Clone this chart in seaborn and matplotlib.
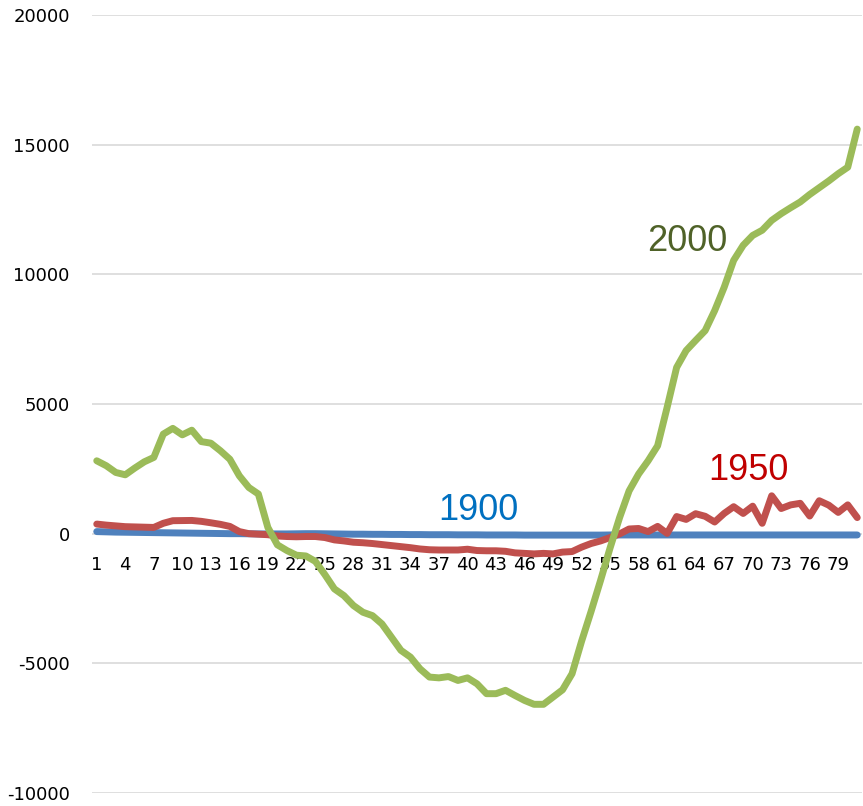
"""Line chart of three yearly series (1900, 1950, 2000) by position."""

import matplotlib

matplotlib.use("Agg")
import matplotlib.pyplot as plt
import pandas as pd
import seaborn as sns

positions = list(range(1, 82))

series_1900 = [
    80, 70, 60, 55, 50, 45, 40, 35, 30, 25,
    20, 15, 10, 5, 0, 0, -5, -10, -10, -10,
    -10, -5, 0, 0, -5, -10, -15, -20, -20, -25,
    -25, -30, -30, -35, -35, -40, -40, -40, -45, -45,
    -45, -50, -50, -50, -50, -55, -55, -55, -55, -55,
    -55, -55, -55, -55, -50, -50, -50, -50, -50, -50,
    -50, -50, -50, -50, -50, -50, -50, -50, -50, -50,
    -50, -50, -50, -50, -50, -50, -50, -50, -50, -50, -50,
]
series_1950 = [
    370, 330, 300, 270, 260, 250, 240, 400, 500, 505,
    510, 475, 420, 360, 280, 80, 0, -20, -40, -90,
    -110, -120, -110, -110, -150, -240, -280, -330, -350, -380,
    -420, -460, -500, -540, -590, -620, -630, -630, -630, -600,
    -650, -660, -660, -680, -740, -760, -780, -760, -780, -710,
    -690, -520, -380, -280, -150, -10, 180, 200, 80, 280,
    10, 660, 550, 770, 670, 450, 780, 1040, 780, 1060,
    400, 1460, 970, 1110, 1170, 680, 1270, 1100, 820, 1110, 620,
]
series_2000 = [
    2810, 2620, 2360, 2270, 2530, 2770, 2940, 3840, 4060, 3810,
    3990, 3550, 3490, 3200, 2870, 2230, 1780, 1530, 240, -430,
    -650, -830, -860, -1070, -1580, -2130, -2390, -2770, -3030, -3160,
    -3480, -3990, -4500, -4760, -5210, -5530, -5560, -5510, -5660, -5560,
    -5790, -6170, -6170, -6040, -6240, -6430, -6580, -6580, -6300, -6020,
    -5400, -4150, -3000, -1800, -550, 620, 1650, 2300, 2810, 3390,
    4870, 6410, 7060, 7450, 7830, 8600, 9500, 10540, 11120, 11500,
    11700, 12080, 12340, 12570, 12790, 13080, 13340, 13600, 13880, 14130, 15600,
]

series_names = ["1900", "1950", "2000"]
line_colors = ["#4F81BD", "#C0504D", "#9BBB59"]
label_colors = ["#0070C0", "#C00000", "#4F6228"]
label_positions = [(41.1, 885), (69.6, 2425), (63.1, 11280)]

y_ticks = [-10000, -5000, 0, 5000, 10000, 15000, 20000]
x_ticks = list(range(1, 82, 3))

frame = pd.concat(
    [
        pd.DataFrame({"position": positions, "value": values, "series": name})
        for name, values in zip(series_names, [series_1900, series_1950, series_2000])
    ],
    ignore_index=True,
)

sns.set_style("white")
plt.rcParams["font.family"] = ["DejaVu Sans"]
plt.rcParams["axes.unicode_minus"] = False
plt.rcParams["lines.solid_joinstyle"] = "round"
plt.rcParams["lines.solid_capstyle"] = "round"

fig = plt.figure(figsize=(8.63, 8.06), dpi=100)
ax = fig.add_axes([92 / 863, 1 - 793 / 806, 770 / 863, (793 - 15) / 806])

sns.lineplot(
    data=frame,
    x="position",
    y="value",
    hue="series",
    hue_order=series_names,
    palette=line_colors,
    linewidth=5,
    legend=False,
    ax=ax,
)

# series names written straight onto the plot instead of a legend
for name, color, (x_pos, y_pos) in zip(series_names, label_colors, label_positions):
    ax.text(x_pos, y_pos, name, color=color, fontsize=26, family="Liberation Sans",
            ha="center", va="center")

ax.set_xlim(0.5, 81.5)
ax.set_ylim(-10000, 20000)
ax.set_yticks(y_ticks)
ax.set_xticks(x_ticks)
ax.set_xticklabels([str(t) for t in x_ticks])
ax.yaxis.grid(True, color="#D9D9D9", linewidth=1.2)
ax.set_axisbelow(True)

for side in ["top", "right", "left"]:
    ax.spines[side].set_visible(False)
# category labels sit under the zero line, not at the bottom of the plot
ax.spines["bottom"].set_position(("data", 0))
ax.spines["bottom"].set_visible(False)

ax.tick_params(axis="y", length=0, pad=16, labelsize=13, colors="#000000")
ax.tick_params(axis="x", length=0, pad=16, labelsize=13, colors="#000000")
ax.set_xlabel("")
ax.set_ylabel("")

fig.savefig("out.png", dpi=100)
